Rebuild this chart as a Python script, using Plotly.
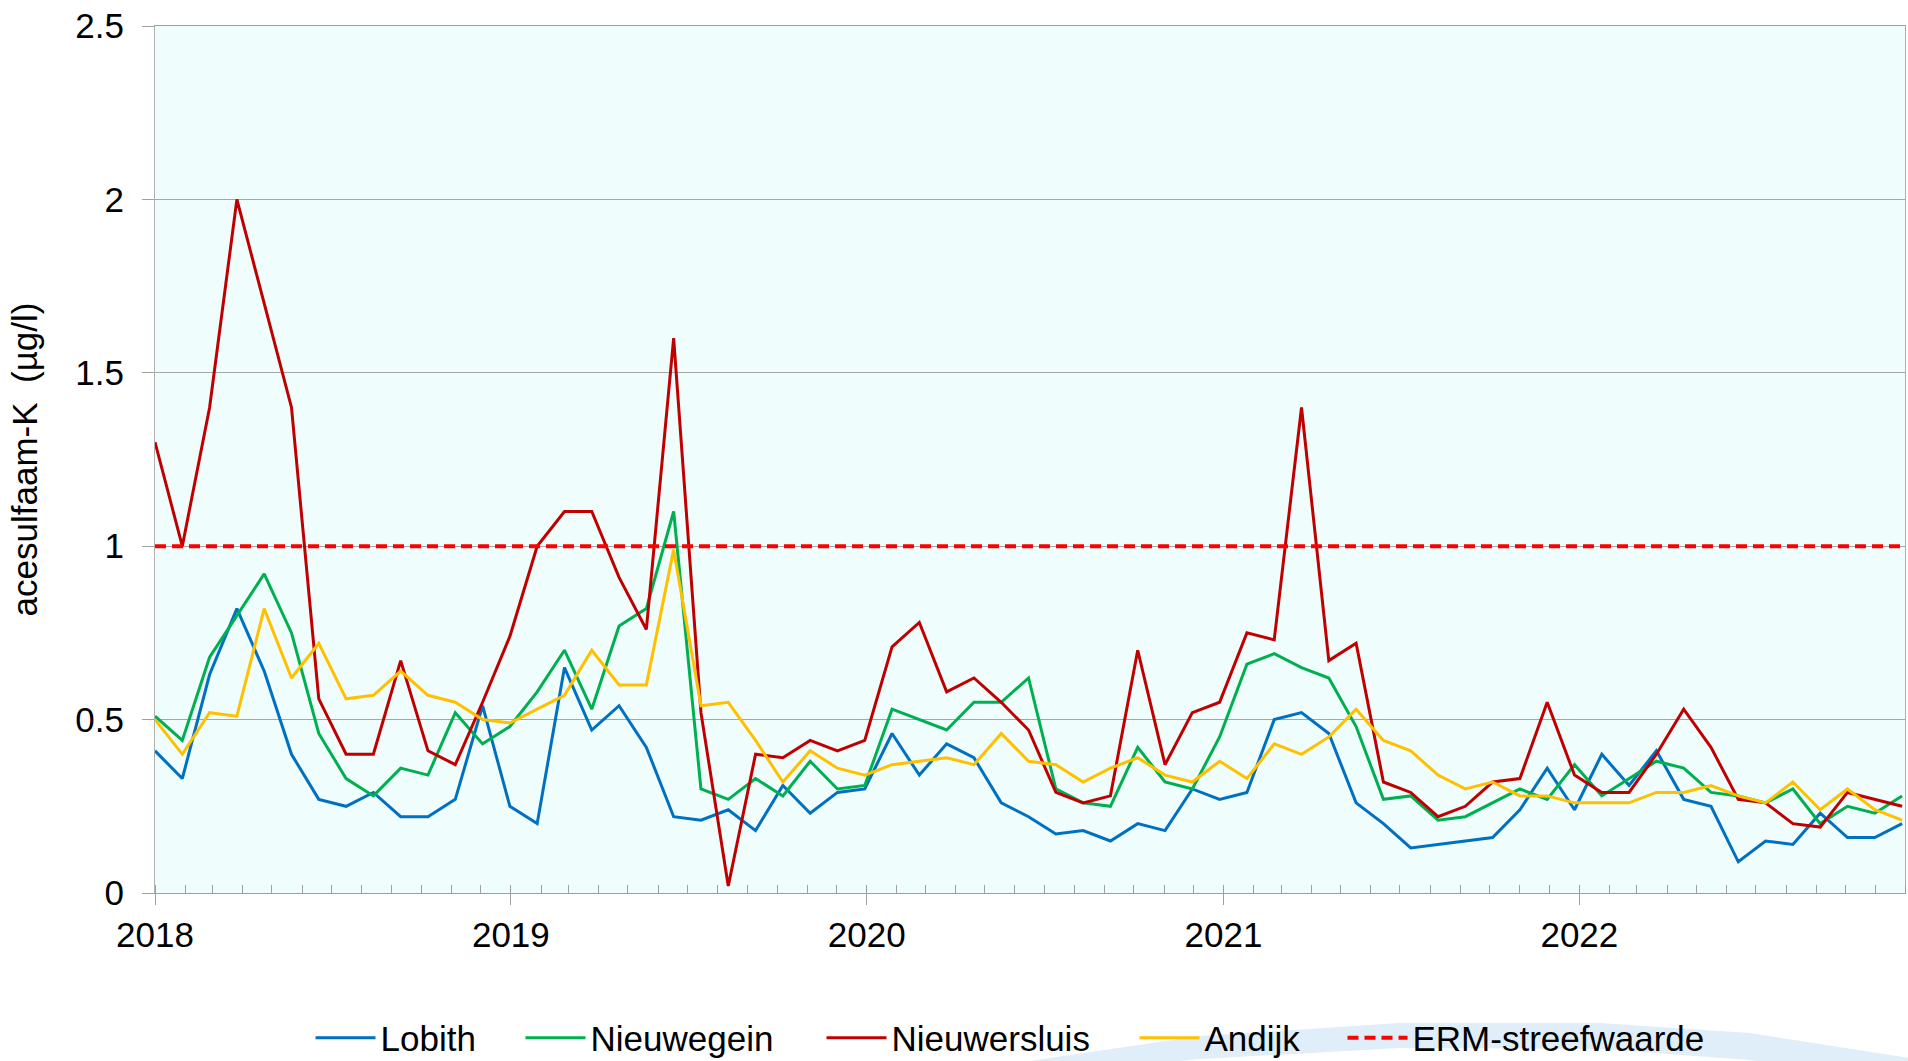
import plotly.graph_objects as go

# sampling dates (4-weekly)
dates = [
    "2018-01-01", "2018-01-29", "2018-02-26", "2018-03-26", "2018-04-23", "2018-05-21", "2018-06-18",
    "2018-07-16", "2018-08-13", "2018-09-10", "2018-10-08", "2018-11-05", "2018-12-03", "2018-12-31",
    "2019-01-28", "2019-02-25", "2019-03-25", "2019-04-22", "2019-05-20", "2019-06-17", "2019-07-15",
    "2019-08-12", "2019-09-09", "2019-10-07", "2019-11-04", "2019-12-02", "2019-12-30",
    "2020-01-27", "2020-02-24", "2020-03-23", "2020-04-20", "2020-05-18", "2020-06-15", "2020-07-13",
    "2020-08-10", "2020-09-07", "2020-10-05", "2020-11-02", "2020-11-30", "2020-12-28",
    "2021-01-25", "2021-02-22", "2021-03-22", "2021-04-19", "2021-05-17", "2021-06-14", "2021-07-12",
    "2021-08-09", "2021-09-06", "2021-10-04", "2021-11-01", "2021-11-29", "2021-12-27",
    "2022-01-24", "2022-02-21", "2022-03-21", "2022-04-18", "2022-05-16", "2022-06-13", "2022-07-11",
    "2022-08-08", "2022-09-05", "2022-10-03", "2022-10-31", "2022-11-28",
]
axis_start = "2018-01-01"
axis_end = "2022-12-01"

lobith = [0.41, 0.33, 0.63, 0.82, 0.64, 0.40, 0.27, 0.25, 0.29, 0.22, 0.22, 0.27, 0.54, 0.25,
          0.20, 0.65, 0.47, 0.54, 0.42, 0.22, 0.21, 0.24, 0.18, 0.31, 0.23, 0.29, 0.30,
          0.46, 0.34, 0.43, 0.39, 0.26, 0.22, 0.17, 0.18, 0.15, 0.20, 0.18, 0.30, 0.27,
          0.29, 0.50, 0.52, 0.46, 0.26, 0.20, 0.13, 0.14, 0.15, 0.16, 0.24, 0.36, 0.24,
          0.40, 0.31, 0.41, 0.27, 0.25, 0.09, 0.15, 0.14, 0.23, 0.16, 0.16, 0.20]

nieuwegein = [0.51, 0.44, 0.68, 0.80, 0.92, 0.75, 0.46, 0.33, 0.28, 0.36, 0.34, 0.52, 0.43, 0.48,
              0.58, 0.70, 0.53, 0.77, 0.82, 1.10, 0.30, 0.27, 0.33, 0.28, 0.38, 0.30, 0.31,
              0.53, 0.50, 0.47, 0.55, 0.55, 0.62, 0.30, 0.26, 0.25, 0.42, 0.32, 0.30, 0.45,
              0.66, 0.69, 0.65, 0.62, 0.48, 0.27, 0.28, 0.21, 0.22, 0.26, 0.30, 0.27, 0.37,
              0.28, 0.33, 0.38, 0.36, 0.29, 0.28, 0.26, 0.30, 0.20, 0.25, 0.23, 0.28]

nieuwersluis = [1.30, 1.00, 1.40, 2.00, 1.70, 1.40, 0.56, 0.40, 0.40, 0.67, 0.41, 0.37, 0.55, 0.74,
                1.00, 1.10, 1.10, 0.91, 0.76, 1.60, 0.52, 0.02, 0.40, 0.39, 0.44, 0.41, 0.44,
                0.71, 0.78, 0.58, 0.62, 0.55, 0.47, 0.29, 0.26, 0.28, 0.70, 0.37, 0.52, 0.55,
                0.75, 0.73, 1.40, 0.67, 0.72, 0.32, 0.29, 0.22, 0.25, 0.32, 0.33, 0.55, 0.34,
                0.29, 0.29, 0.40, 0.53, 0.42, 0.27, 0.26, 0.20, 0.19, 0.29, 0.27, 0.25]

andijk = [0.50, 0.40, 0.52, 0.51, 0.82, 0.62, 0.72, 0.56, 0.57, 0.64, 0.57, 0.55, 0.50, 0.49,
          0.53, 0.57, 0.70, 0.60, 0.60, 0.99, 0.54, 0.55, 0.44, 0.32, 0.41, 0.36, 0.34,
          0.37, 0.38, 0.39, 0.37, 0.46, 0.38, 0.37, 0.32, 0.36, 0.39, 0.34, 0.32, 0.38,
          0.33, 0.43, 0.40, 0.45, 0.53, 0.44, 0.41, 0.34, 0.30, 0.32, 0.28, 0.28, 0.26,
          0.26, 0.26, 0.29, 0.29, 0.31, 0.28, 0.26, 0.32, 0.24, 0.30, 0.24, 0.21]

erm_streefwaarde = 1.0

series_names = ["Lobith", "Nieuwegein", "Nieuwersluis", "Andijk"]
series_values = [lobith, nieuwegein, nieuwersluis, andijk]
series_colors = ["#0070C0", "#00B050", "#C00000", "#FFC000"]

year_ticks = ["2018-01-01", "2019-01-01", "2020-01-01", "2021-01-01", "2022-01-01"]
year_labels = ["2018", "2019", "2020", "2021", "2022"]

FONT = "Liberation Sans, Arial, sans-serif"

# plot area geometry in page pixels
PL, PR, PT, PB = 155.5, 1905.5, 26.0, 893.0
PW, PH = PR - PL, PB - PT

legend_ids = ["legend", "legend2", "legend3", "legend4", "legend5"]
legend_symbol_px = [316, 526, 827, 1140, 1348]   # left end of each legend line
legend_center_py = 1038

fig = go.Figure()
for i, (name, vals, col) in enumerate(zip(series_names, series_values, series_colors)):
    fig.add_trace(go.Scatter(x=dates, y=vals, name=name, mode="lines",
                             line=dict(color=col, width=3), legend=legend_ids[i]))

fig.add_trace(go.Scatter(x=[axis_start, axis_end], y=[erm_streefwaarde, erm_streefwaarde],
                         name="ERM-streefwaarde", mode="lines",
                         line=dict(color="#FF0000", width=4, dash="11px,6px"),
                         legend=legend_ids[4]))

# pale logo arc behind the legend (paper coords)
def P(px, py):
    return (px - PL) / PW, (PB - py) / PH

outer = [(1030, 1061), (1200, 1036), (1400, 1023), (1600, 1023), (1750, 1033), (1910, 1058)]
inner = [(1910, 1085), (1750, 1060), (1600, 1049), (1400, 1048), (1200, 1059), (1110, 1068)]
pts = [P(*p) for p in outer + inner]
path = "M " + " L ".join(f"{x:.4f},{y:.4f}" for x, y in pts) + " Z"
fig.add_shape(type="path", path=path, xref="paper", yref="paper",
              fillcolor="#E0EEF9", line=dict(width=0), layer="below")

legend_common = dict(orientation="h", xanchor="left",
                     y=(PB - legend_center_py) / PH, yanchor="middle",
                     font=dict(size=35, family=FONT, color="black"), itemwidth=60,
                     bgcolor="rgba(0,0,0,0)")
legends = {}
for lid, px in zip(legend_ids, legend_symbol_px):
    legends[lid] = dict(x=(px - 5 - PL) / PW, **legend_common)

fig.update_layout(
    width=1908, height=1061,
    margin=dict(l=155, r=3, t=26, b=168, pad=0, autoexpand=False),
    paper_bgcolor="white",
    plot_bgcolor="#EFFDFD",
    font=dict(family=FONT, size=35, color="black"),
    showlegend=True,
    xaxis=dict(
        type="date",
        range=[axis_start, axis_end],
        tickvals=year_ticks, ticktext=year_labels,
        ticks="outside", ticklen=11, tickcolor="#A0A0A0", tickwidth=1,
        showline=True, linecolor="#A0A0A0", linewidth=1, mirror=True,
        showgrid=False, zeroline=False, automargin=False,
        minor=dict(dtick="M1", tick0="2018-01-01", ticks="inside", ticklen=8,
                   tickcolor="#A0A0A0", showgrid=False),
        tickfont=dict(size=35),
    ),
    yaxis=dict(
        range=[0, 2.5], dtick=0.5, tick0=0,
        ticks="outside", ticklen=12, tickcolor="#A0A0A0",
        ticklabelstandoff=11, ticklabeloverflow="allow",
        showline=True, linecolor="#B0B0B0", linewidth=1, mirror=True,
        showgrid=True, gridcolor="#A6A6A6", gridwidth=1, zeroline=False,
        automargin=False,
        tickfont=dict(size=35),
        title=dict(text="acesulfaam-K  (µg/l)", font=dict(size=35), standoff=27),
    ),
    **legends,
)

fig.write_html("out.html",
               config={"displayModeBar": False},
               post_script="document.body.style.margin='0';document.body.style.overflow='hidden';")
